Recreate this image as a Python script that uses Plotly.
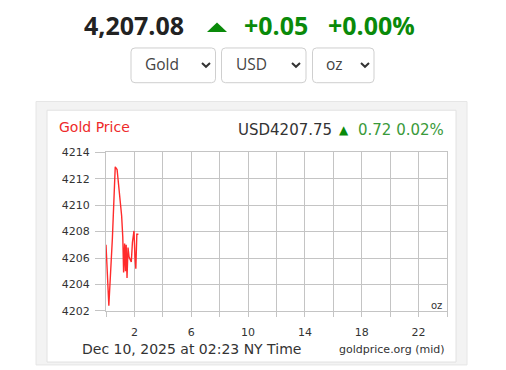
import plotly.graph_objects as go

W, H = 506, 370

# ---- data ----
hours = [0.0, 0.2, 0.45, 0.65, 0.78, 0.94, 1.1, 1.18, 1.24, 1.31, 1.37, 1.42, 1.48,
         1.55, 1.62, 1.7, 1.78, 1.86, 1.97, 2.04, 2.1, 2.17, 2.28]
prices = [4207.0, 4202.4, 4207.5, 4212.9, 4212.7, 4211.0, 4209.2, 4207.6, 4204.9,
          4207.1, 4205.0, 4207.0, 4204.5, 4206.8, 4206.1, 4205.9, 4205.7, 4207.2,
          4208.05, 4206.0, 4205.2, 4207.8, 4207.8]
x_ticks = [0, 2, 4, 6, 8, 10, 12, 14, 16, 18, 20, 22, 24]
x_tick_labels = ["", "2", "", "6", "", "10", "", "14", "", "18", "", "22", ""]
y_ticks = [4202, 4204, 4206, 4208, 4210, 4212, 4214]

header_price = "4,207.08"
header_change = "+0.05"
header_pct = "+0.00%"
selectors = ["Gold", "USD", "oz"]
chart_title = "Gold Price"
chart_price = "USD4207.75"
chart_change = "0.72 0.02%"
date_text = "Dec 10, 2025 at 02:23 NY Time"
source_text = "goldprice.org (mid)"
unit_text = "oz"


def px(x):
    return x / W


def py(y):
    return 1 - y / H


fig = go.Figure()
fig.add_trace(go.Scatter(x=hours, y=prices, mode="lines",
                         line=dict(color="#ff2b2b", width=1.4),
                         hoverinfo="skip", showlegend=False))

grid = "#c4c4c4"
fig.update_layout(
    width=W, height=H, margin=dict(l=0, r=0, t=0, b=0),
    paper_bgcolor="white", plot_bgcolor="white",
    showlegend=False,
    xaxis=dict(domain=[px(106), px(447)], range=[0, 24], tickvals=x_ticks,
               ticktext=x_tick_labels, showgrid=True, gridcolor=grid, gridwidth=1,
               zeroline=False, showline=True, linecolor=grid, mirror=True,
               ticks="outside", ticklen=5, tickcolor=grid, tickwidth=1,
               ticklabelstandoff=6,
               tickfont=dict(family="DejaVu Sans", size=11, color="#333")),
    yaxis=dict(domain=[py(316), py(151.7)], range=[4202, 4214], tickvals=y_ticks,
               showgrid=True, gridcolor=grid, gridwidth=1,
               zeroline=False, showline=True, linecolor=grid, mirror=True,
               ticks="outside", ticklen=10, tickcolor=grid, tickwidth=1,
               ticklabelstandoff=3,
               tickfont=dict(family="DejaVu Sans", size=11, color="#333")),
)

shapes = []
# card background
shapes.append(dict(type="rect", xref="paper", yref="paper", layer="below",
                   x0=px(36), x1=px(467), y0=py(372), y1=py(99),
                   fillcolor="#f3f3f3", line=dict(color="#e6e6e6", width=1)))
shapes.append(dict(type="rect", xref="paper", yref="paper", layer="below",
                   x0=px(47), x1=px(456), y0=py(369), y1=py(108),
                   fillcolor="white", line=dict(color="#e2e2e2", width=1)))

# header up-triangle
shapes.append(dict(type="path", xref="paper", yref="paper",
                   path=f"M {px(207)},{py(27)} L {px(217)},{py(17)} L {px(227)},{py(27)} Z",
                   fillcolor="#0a8a0a", line=dict(width=0)))

# selector boxes
boxes = [(131, 215.5), (221.5, 306), (312.5, 374)]
chev_x = [206, 296, 365]
text_x = [143, 233.5, 324]
for (x0, x1), cx in zip(boxes, chev_x):
    y0, y1 = 43.5, 79.5
    r = 4
    path = (f"M {px(x0+r)},{py(y0)} L {px(x1-r)},{py(y0)} Q {px(x1)},{py(y0)} {px(x1)},{py(y0+r)} "
            f"L {px(x1)},{py(y1-r)} Q {px(x1)},{py(y1)} {px(x1-r)},{py(y1)} "
            f"L {px(x0+r)},{py(y1)} Q {px(x0)},{py(y1)} {px(x0)},{py(y1-r)} "
            f"L {px(x0)},{py(y0+r)} Q {px(x0)},{py(y0)} {px(x0+r)},{py(y0)} Z")
    shapes.append(dict(type="path", xref="paper", yref="paper", path=path,
                       fillcolor="white", line=dict(color="#cfcfcf", width=1)))
    shapes.append(dict(type="path", xref="paper", yref="paper",
                       path=f"M {px(cx-4)},{py(59)} L {px(cx)},{py(63)} L {px(cx+4)},{py(59)}",
                       line=dict(color="#333", width=2)))
fig.update_layout(shapes=shapes)

ann = []


def add_text(text, x, y, size, color, family="DejaVu Sans", anchor="left", bold=False):
    if bold:
        text = f"<b>{text}</b>"
    ann.append(dict(text=text, x=px(x), y=py(y), xref="paper", yref="paper",
                    xanchor=anchor, yanchor="middle", showarrow=False,
                    font=dict(family=family, size=size, color=color)))


# header
add_text(header_price, 82, 20, 25, "#222", family="Open Sans", bold=True)
add_text(header_change, 242, 20, 25, "#0a8a0a", family="Open Sans", bold=True)
add_text(header_pct, 326, 20, 25, "#0a8a0a", family="Open Sans", bold=True)
for s, tx in zip(selectors, text_x):
    add_text(s, tx, 60, 15.5, "#444", family="Open Sans")

# chart texts
add_text(chart_title, 57, 125, 14, "#ee2a2a")
add_text(chart_price, 236, 128, 15, "#333")
add_text("▲", 344, 129, 12, "#0a8a0a", anchor="center")
add_text(chart_change, 446, 128, 15, "#3a9a3a", anchor="right")
add_text(unit_text, 436, 310, 10, "#333", anchor="center")
add_text(date_text, 80, 356, 14, "#333")
add_text(source_text, 447, 356, 11, "#333", anchor="right")
fig.update_layout(annotations=ann)

fig.write_html("out.html")
